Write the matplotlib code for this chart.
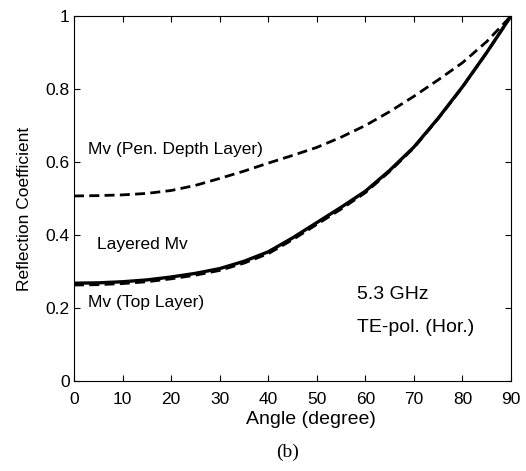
import matplotlib
matplotlib.use('Agg')
import matplotlib.pyplot as plt
import numpy as np

# incidence angle (deg)
angle = [0, 5, 10, 15, 20, 25, 30, 35, 40, 45, 50, 55, 60, 65, 70, 75, 80, 85, 90]

# reflection coefficients
pen_depth = [0.507, 0.508, 0.510, 0.514, 0.522, 0.536, 0.555, 0.575, 0.597, 0.618,
             0.640, 0.668, 0.700, 0.738, 0.780, 0.825, 0.872, 0.930, 1.0]
layered = [0.268, 0.269, 0.272, 0.277, 0.285, 0.295, 0.308, 0.328, 0.354, 0.392,
           0.434, 0.476, 0.520, 0.577, 0.641, 0.720, 0.806, 0.900, 1.0]
top_layer = [0.263, 0.264, 0.267, 0.272, 0.280, 0.290, 0.303, 0.323, 0.349, 0.387,
             0.429, 0.471, 0.516, 0.574, 0.639, 0.719, 0.805, 0.900, 1.0]

xticks = [0, 10, 20, 30, 40, 50, 60, 70, 80, 90]
yticks = [0, 0.2, 0.4, 0.6, 0.8, 1]
yticklabels = ['0', '0.2', '0.4', '0.6', '0.8', '1']

plt.rcParams['font.family'] = ['Liberation Sans', 'DejaVu Sans']

fig = plt.figure(figsize=(5.26, 4.71), dpi=100)
ax = fig.add_axes([0.1407, 0.191, 0.8308, 0.775])

ax.plot(angle, pen_depth, color='black', lw=2.0, ls=(0, (3.6, 1.9)))
ax.plot(angle, top_layer, color='black', lw=2.0, ls=(0, (3.6, 1.9)))
ax.plot(angle, layered, color='black', lw=2.4)

ax.set_xlim(0, 90)
ax.set_ylim(0, 1)
ax.set_xticks(xticks)
ax.set_yticks(yticks)
ax.set_yticklabels(yticklabels)
ax.tick_params(direction='in', length=4, top=True, right=True, labelsize=12.5)
ax.tick_params(axis='x', pad=8)
ax.tick_params(axis='y', pad=3)

ax.set_xlabel('Angle (degree)', fontsize=14)
ax.set_ylabel('Reflection Coefficient', fontsize=12.5)
ax.xaxis.set_label_coords(0.542, -0.082)
ax.yaxis.set_label_coords(-0.096, 0.471)

ax.text(2.9, 0.633, 'Mv (Pen. Depth Layer)', fontsize=12.5, va='center')
ax.text(4.7, 0.373, 'Layered Mv', fontsize=12.5, va='center')
ax.text(2.9, 0.216, 'Mv (Top Layer)', fontsize=12.5, va='center')
ax.text(58.2, 0.236, '5.3 GHz', fontsize=14, va='center')
ax.text(58.2, 0.148, 'TE-pol. (Hor.)', fontsize=14, va='center')

fig.text(288 / 526, 1 - 452 / 471, '(b)', family=['Liberation Serif', 'DejaVu Serif'],
         fontsize=14, ha='center', va='center')

fig.savefig('out.png', dpi=100)
